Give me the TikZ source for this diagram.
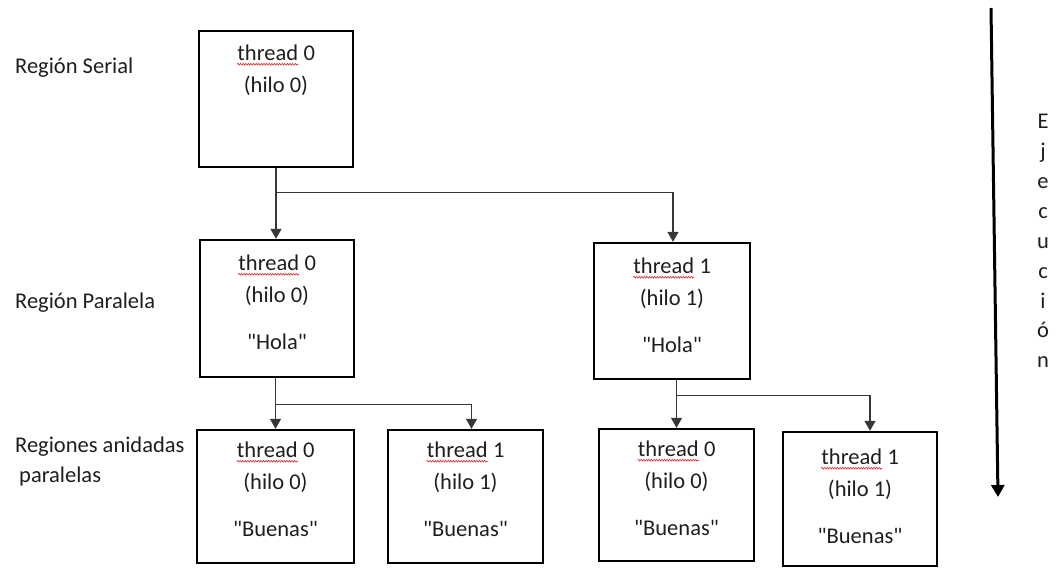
\documentclass[tikz,border=0pt]{standalone}
\usepackage{fontspec}
\setmainfont{Carlito}[Ligatures=TeXOff]
\usetikzlibrary{arrows.meta,calc,decorations.pathmorphing}

\definecolor{ink}{RGB}{30,30,30}
\definecolor{linegray}{RGB}{55,55,55}
\definecolor{spellred}{RGB}{225,45,45}

% red wavy underline under a word
\newcommand\spellmark[1]{\tikz[baseline=(w.base),x=1cm,y=1cm]{%
  \node[inner sep=0pt,anchor=base] (w) {#1};%
  \draw[spellred,line width=0.6pt,decorate,
    decoration={snake,amplitude=0.9pt,segment length=2.6pt}]
    ([yshift=-3.6pt]w.base west) -- ([yshift=-3.6pt]w.base east);}}

\tikzset{
  box/.style={draw=black, line width=2.4pt, inner sep=0pt},
  boxtext/.style={anchor=north, inner sep=0pt, align=center, text=ink,
    font=\fontsize{22.5}{32}\selectfont},
  sidelabel/.style={inner sep=0pt, text=ink, font=\fontsize{22.5}{27}\selectfont},
  conn/.style={draw=linegray, line width=1.3pt, -{Triangle[length=10pt,width=11pt]}},
  execarrow/.style={draw=black, line width=3pt, -{Triangle[length=12pt,width=13pt]}},
}

\begin{document}
\begin{tikzpicture}[x=1pt,y=-1pt]
\useasboundingbox (0,0) rectangle (1061,568);

% thread boxes
\node[box, minimum width=154pt, minimum height=136pt] (serial) at (276,99) {};
\node[box, minimum width=154pt, minimum height=137pt] (par0)   at (277,308.5) {};
\node[box, minimum width=156pt, minimum height=136pt] (par1)   at (672,311) {};
\node[box, minimum width=157pt, minimum height=133pt] (nest00) at (275.5,496.5) {};
\node[box, minimum width=155pt, minimum height=133pt] (nest01) at (465.5,496.5) {};
\node[box, minimum width=155pt, minimum height=132pt] (nest10) at (676.5,495) {};
\node[box, minimum width=154pt, minimum height=134pt] (nest11) at (860,499) {};

% box contents
\node[boxtext] (serialtxt) at ([yshift=-15pt]serial.north) {\spellmark{thread} 0\\(hilo 0)};
\node[boxtext] (par0txt) at ([yshift=-16pt]par0.north) {\spellmark{thread} 0\\(hilo 0)\\[15pt]"Hola"};
\node[boxtext] (par1txt) at ([yshift=-16pt]par1.north) {\spellmark{thread} 1\\(hilo 1)\\[15pt]"Hola"};
\node[boxtext] (nest00txt) at ([yshift=-13pt]nest00.north) {\spellmark{thread} 0\\(hilo 0)\\[15pt]"Buenas"};
\node[boxtext] (nest01txt) at ([yshift=-13pt]nest01.north) {\spellmark{thread} 1\\(hilo 1)\\[15pt]"Buenas"};
\node[boxtext] (nest10txt) at ([yshift=-13pt]nest10.north) {\spellmark{thread} 0\\(hilo 0)\\[15pt]"Buenas"};
\node[boxtext] (nest11txt) at ([yshift=-18pt]nest11.north) {\spellmark{thread} 1\\(hilo 1)\\[15pt]"Buenas"};

% region labels
\node[sidelabel, anchor=base west] (lserial) at (15,73) {Región Serial};
\node[sidelabel, anchor=base west] (lpar) at (15,308) {Región Paralela};
\node[sidelabel, anchor=base west] (lnest) at (15,452) {Regiones anidadas};
\node[sidelabel, anchor=base west] (lnestb) at (19,482) {paralelas};

% fork points
\coordinate (forkS)  at ($(serial.south)+(0,24)$);
\coordinate (forkP0) at ($(nest00.north |- par0.south)+(0,26)$);
\coordinate (forkP1) at ($(nest10.north |- par1.south)+(0,15)$);

% connectors
\draw[conn] (serial.south) -- (serial.south |- par0.north);
\draw[conn] (forkS) -| ([xshift=1pt]par1.north);
\draw[conn] (nest00.north |- par0.south) -- (nest00.north);
\draw[conn] (forkP0) -| ([xshift=6pt]nest01.north);
\draw[conn] (nest10.north |- par1.south) -- (nest10.north);
\draw[conn] (forkP1) -| ([xshift=10pt]nest11.north);

% execution axis
\coordinate (exectop) at (991,8);
\coordinate (execbot) at (998,497);
\draw[execarrow] (exectop) -- (execbot);
\node[anchor=north, inner sep=0pt, align=center, text=ink,
  font=\fontsize{22.5}{29.9}\selectfont] (ejec) at (1043,114)
  {E\\j\\e\\c\\u\\c\\i\\ó\\n};
\end{tikzpicture}
\end{document}
